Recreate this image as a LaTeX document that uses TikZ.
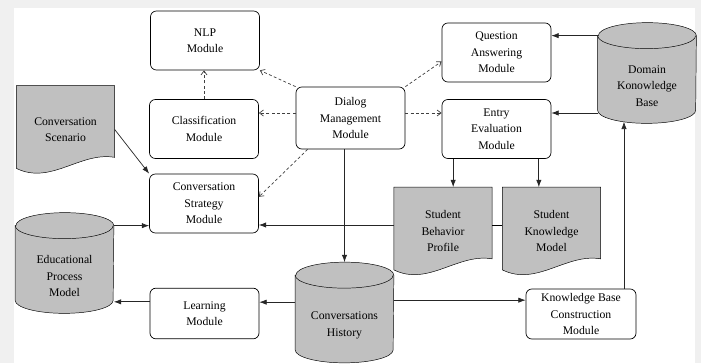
\documentclass[tikz,border=0pt]{standalone}
\usepackage{fontspec}
\setmainfont{Liberation Serif}
\usetikzlibrary{arrows.meta,backgrounds}
\definecolor{boxgray}{RGB}{192,192,192}
\definecolor{pagegray}{RGB}{240,240,240}
\tikzset{
    module/.style={draw, rounded corners=5pt, minimum width=3.27cm, minimum height=1.77cm, align=center, fill=white},
    docu/.style={minimum width=2.93cm, minimum height=2.61cm, align=center},
    dbase/.style={minimum width=2.94cm, minimum height=2.22cm, align=center},
    arr/.style={-{Latex[length=2.2mm,width=1.6mm]}, black!85},
    dasharr/.style={-{Straight Barb[length=1.2mm,width=1.8mm]}, dash pattern=on 2.5pt off 2pt, black!75},
}
\begin{document}
\begin{tikzpicture}[x=0.03cm, y=-0.03cm, line width=0.6pt, font=\fontsize{10}{14}\selectfont]
        \useasboundingbox (0,0) rectangle (701,363);

        \node[module] (nlp) at (205,40.5) {NLP\\Module};
        \node[module] (class) at (204,129) {Classification\\Module};
        \node[module] (strat) at (204,203.5) {Conversation\\Strategy\\Module};
        \node[module, minimum height=1.52cm] (learn) at (204.5,313.5) {Learning\\Module};
        \node[module, minimum height=1.86cm] (dialog) at (350.5,118) {Dialog\\Management\\Module};
        \node[module] (qa) at (496.5,52.5) {Question\\Answering\\Module};
        \node[module] (entry) at (496.5,129) {Entry\\Evaluation\\Module};
        \node[module, minimum width=3.3cm, minimum height=1.5cm] (kbc) at (581,314) {Knowledge Base\\Construction\\Module};

        \node[docu] (scen) at (65.5,129.5) {Conversation\\Scenario};
        \node[docu] (sbp) at (443,231) {Student\\Behavior\\Profile};
        \node[docu] (skm) at (551.5,231) {Student\\Knowledge\\Model};

        \node[dbase] (dkb) at (647,86) {Domain\\Konowledge\\Base};
        \node[dbase] (epm) at (64.5,276) {Educational\\Process\\Model};
        \node[dbase] (chist) at (344.5,325.5) {Conversations\\History};

        \draw[dasharr] (dialog.north west) -- (nlp.south east);
        \draw[dasharr] (class.north) -- (class.north |- nlp.south);
        \draw[dasharr] ([yshift=0.15cm]dialog.west) -- ([yshift=0.15cm]dialog.west -| class.east);
        \draw[dasharr] ([xshift=0.36cm]dialog.south west) -- ([yshift=0.2cm]strat.east);
        \draw[dasharr] (dialog.north east) -- ([yshift=-0.27cm]qa.west);
        \draw[dasharr] ([yshift=0.15cm]dialog.east) -- ([yshift=0.15cm]dialog.east -| entry.west);

        \draw[arr] (chist.north |- dialog.south) -- ([yshift=0.78cm]chist.north);
        \draw[arr] (scen.east) -- (strat.north west);
        \draw[arr] ([yshift=0.39cm]epm.north east) -- ([yshift=0.39cm]epm.north east -| strat.west);
        \draw[arr] ([yshift=0.18cm]sbp.west) -- ([yshift=0.18cm]sbp.west -| strat.east);
        \draw ([yshift=0.18cm]skm.west) -- ([yshift=0.18cm]sbp.east);
        \draw[arr] ([xshift=-1.3cm]entry.south) -- ([xshift=-1.3cm]entry.south |- sbp.north);
        \draw[arr] ([xshift=1.27cm]entry.south) -- ([xshift=1.27cm]entry.south |- skm.north);
        \draw[arr] ([yshift=0.39cm]dkb.north west) -- ([yshift=0.39cm]dkb.north west -| qa.east);
        \draw[arr] ([yshift=-0.81cm]dkb.west) -- ([yshift=-0.81cm]dkb.west -| entry.east);
        \draw[arr] ([xshift=-0.69cm]dkb.south |- kbc.north) -- ([xshift=-0.69cm, yshift=0.05cm]dkb.south);
        \draw[arr] ([yshift=0.7cm]chist.west) -- ([yshift=0.7cm]chist.west -| learn.east);
        \draw[arr] ([yshift=0.35cm]learn.west) -- ([yshift=0.35cm]learn.west -| epm.east);
        \draw[arr] ([yshift=0.76cm]chist.east) -- ([yshift=0.76cm]chist.east -| kbc.west);

        \begin{scope}[on background layer]
        \fill[pagegray] (0,0) rectangle (701,363);
        \fill[white] (14,8) rectangle (695,363);
        \foreach \n in {scen,sbp,skm}
            \filldraw[fill=boxgray] (\n.north west) -- (\n.north east) -- ([yshift=0.48cm]\n.south east)
                .. controls ([xshift=-1.03cm, yshift=0.66cm]\n.south east) and ([xshift=1.03cm, yshift=-0.36cm]\n.south west) .. ([yshift=0.15cm]\n.south west) -- cycle;
        \foreach \n in {dkb,epm,chist} {
            \filldraw[fill=boxgray] ([yshift=0.39cm]\n.north west) -- ([yshift=0.39cm]\n.south west)
                arc[start angle=180, end angle=360, x radius=1.47cm, y radius=0.39cm]
                -- ([yshift=0.39cm]\n.north east)
                arc[start angle=0, end angle=180, x radius=1.47cm, y radius=0.39cm] -- cycle;
            \draw ([yshift=0.39cm]\n.north west) arc[start angle=180, end angle=360, x radius=1.47cm, y radius=0.39cm];
        }
        \end{scope}
\end{tikzpicture}
\end{document}
